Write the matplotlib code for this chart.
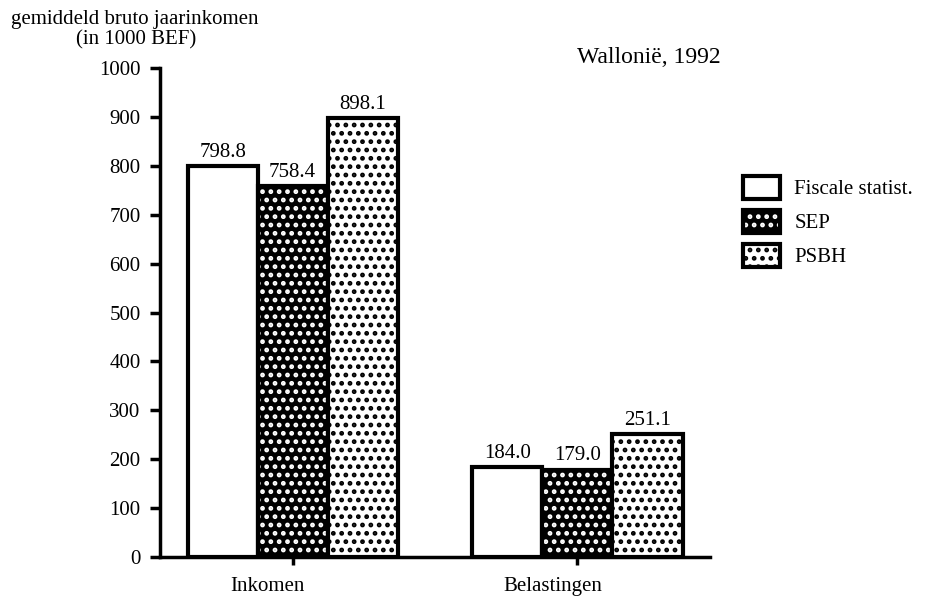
import numpy as np
import matplotlib.pyplot as plt
from matplotlib.patches import Patch

plt.rcParams['font.family'] = ['Liberation Serif', 'DejaVu Serif']
plt.rcParams['hatch.linewidth'] = 2.2

groepen = ['Inkomen', 'Belastingen']
series = ['Fiscale statist.', 'SEP', 'PSBH']
fiscale = [798.8, 184.0]
sep = [758.4, 179.0]
psbh = [898.1, 251.1]
yticks = [0, 100, 200, 300, 400, 500, 600, 700, 800, 900, 1000]

fig = plt.figure(figsize=(9.41, 5.99), dpi=100)
ax = fig.add_axes([0.170, 0.070, 0.585, 0.8165])

x = np.arange(len(groepen))
w = 0.246

# stijl per reeks: (vulkleur, arceerkleur, arcering)
stijlen = [('white', 'black', None), ('black', 'white', '..'), ('white', 'black', '..')]
handles = []
for i, (vals, (fc, hc, hatch)) in enumerate(zip([fiscale, sep, psbh], stijlen)):
    pos = x + (i - 1) * w
    ax.bar(pos, vals, w, color=fc, edgecolor=hc, hatch=hatch, linewidth=0)
    b = ax.bar(pos, vals, w, fill=False, edgecolor='black', linewidth=3)
    ax.bar_label(b, fmt='%.1f', padding=3, fontsize=15)
    handles.append((Patch(facecolor=fc, edgecolor=hc, hatch=hatch, linewidth=0),
                    Patch(fill=False, edgecolor='black', linewidth=3)))

ax.set_xlim(-0.466, 1.467)
ax.set_ylim(0, 1000)
ax.set_yticks(yticks)
# ticks in het midden, labels staan iets links ervan
ax.set_xticks(x)
ax.set_xticklabels([])
ax.set_xticks(x - 0.088, minor=True)
ax.set_xticklabels(groepen, minor=True, fontsize=15)
ax.tick_params(axis='x', which='minor', length=0, pad=14)
ax.tick_params(axis='y', labelsize=15, width=2.5, length=7, pad=7)
ax.tick_params(axis='x', which='major', width=2.5, length=6)
for s in ['top', 'right']:
    ax.spines[s].set_visible(False)
for s in ['left', 'bottom']:
    ax.spines[s].set_linewidth(2.5)

fig.text(0.143, 0.960, 'gemiddeld bruto jaarinkomen', ha='center', fontsize=15)
fig.text(0.145, 0.925, '(in 1000 BEF)', ha='center', fontsize=15)
fig.text(0.689, 0.895, 'Wallonië, 1992', ha='center', fontsize=17)

fig.legend(handles, series, loc='upper left', bbox_to_anchor=(0.770, 0.738),
           frameon=False, fontsize=15, handlelength=1.75, handleheight=1.35,
           labelspacing=0.5, handletextpad=0.7)

plt.savefig('out.png', dpi=100)
